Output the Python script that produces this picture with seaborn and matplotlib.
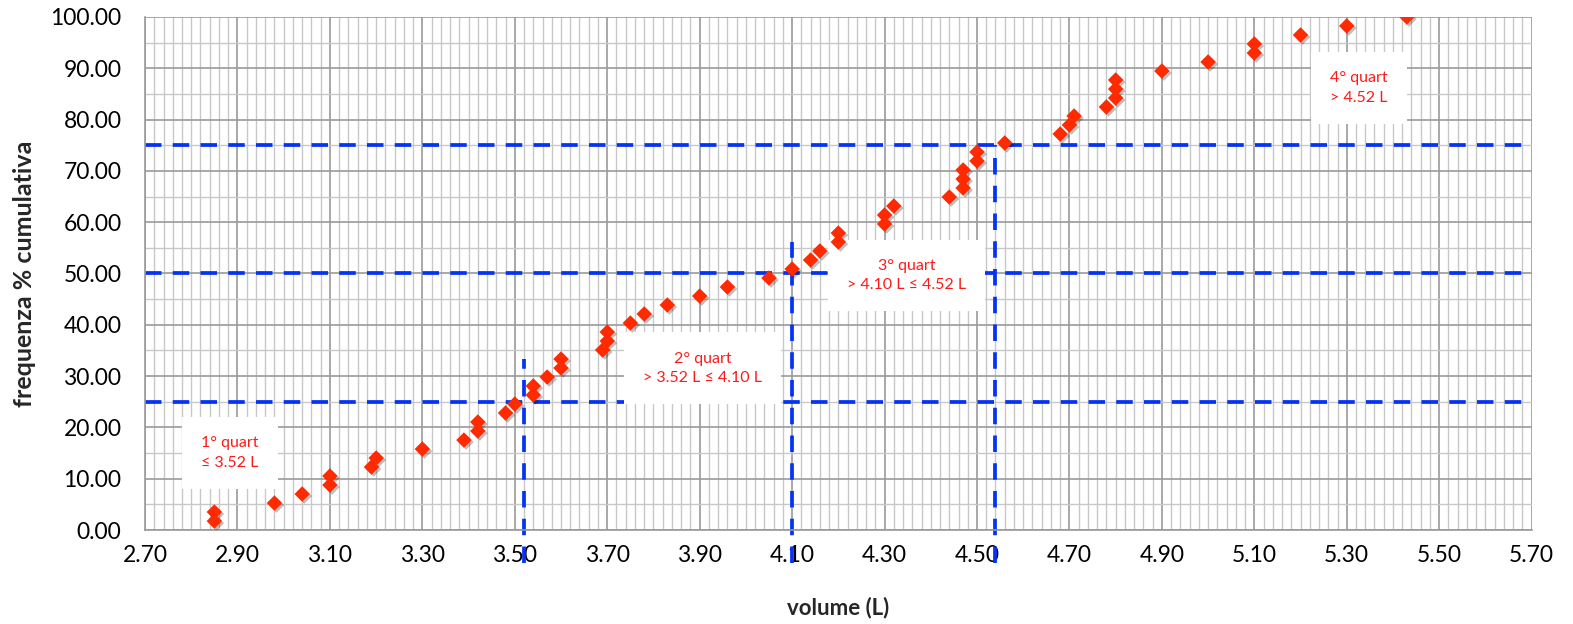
import matplotlib
matplotlib.use("Agg")
import numpy as np
import matplotlib.pyplot as plt
import matplotlib.patheffects as pe
from matplotlib.ticker import FixedLocator, MultipleLocator, FormatStrFormatter
import pandas as pd
import seaborn as sns

# volumi misurati (L) e frequenza % cumulativa
volume = [2.85, 2.85, 2.98, 3.04, 3.10, 3.10, 3.19, 3.20, 3.30, 3.39,
          3.42, 3.42, 3.48, 3.50, 3.54, 3.54, 3.57, 3.60, 3.60, 3.69,
          3.70, 3.70, 3.75, 3.78, 3.83, 3.90, 3.96, 4.05, 4.10, 4.14,
          4.16, 4.20, 4.20, 4.30, 4.30, 4.32, 4.44, 4.47, 4.47, 4.47,
          4.50, 4.50, 4.56, 4.68, 4.70, 4.71, 4.78, 4.80, 4.80, 4.80,
          4.90, 5.00, 5.10, 5.10, 5.20, 5.30, 5.43]
freq = [1.75, 3.51, 5.26, 7.02, 8.77, 10.53, 12.28, 14.04, 15.79, 17.54,
        19.30, 21.05, 22.81, 24.56, 26.32, 28.07, 29.82, 31.58, 33.33, 35.09,
        36.84, 38.60, 40.35, 42.11, 43.86, 45.61, 47.37, 49.12, 50.88, 52.63,
        54.39, 56.14, 57.89, 59.65, 61.40, 63.16, 64.91, 66.67, 68.42, 70.18,
        71.93, 73.68, 75.44, 77.19, 78.95, 80.70, 82.46, 84.21, 85.96, 87.72,
        89.47, 91.23, 92.98, 94.74, 96.49, 98.25, 100.00]

# quartili
quart_pct = [25, 50, 75]
quart_vol = [3.52, 4.10, 4.54]
quart_top = [33.3, 56.2, 75.0]

quart_labels = ["1° quart\n≤ 3.52 L",
                "2° quart\n> 3.52 L ≤ 4.10 L",
                "3° quart\n> 4.10 L ≤ 4.52 L",
                "4° quart\n> 4.52 L"]
label_x = [2.884, 3.906, 4.347, 5.326]
label_y = [15.0, 31.5, 49.6, 86.2]

x_ticks = [2.70, 2.90, 3.10, 3.30, 3.50, 3.70, 3.90, 4.10, 4.30, 4.50,
           4.70, 4.90, 5.10, 5.30, 5.50, 5.70]

df = pd.DataFrame({"volume": volume, "freq": freq})

sns.set_style("white")
plt.rcParams["font.family"] = ["Lato", "DejaVu Sans"]

fig = plt.figure(figsize=(15.73, 6.24), dpi=100)
ax = fig.add_axes([0.0922, 0.1506, 0.8815, 0.8222])

blue = "#0533F5"
for p in quart_pct:
    ax.plot([2.70, 5.70], [p, p], color=blue, lw=2.7, dashes=(4.4, 3.0), zorder=2)
for xv, top in zip(quart_vol, quart_top):
    ax.plot([xv, xv], [-6.4, top], color=blue, lw=2.7, dashes=(4.4, 3.0),
            zorder=2, clip_on=False)

for txt, tx, ty in zip(quart_labels, label_x, label_y):
    ax.text(tx, ty, txt, ha="center", va="center", color="#FF1A1A",
            fontsize=11.5, linespacing=1.5, zorder=3,
            bbox=dict(boxstyle="square,pad=1.2", fc="white", ec="none"))

sns.scatterplot(data=df, x="volume", y="freq", marker="D", s=62,
                color="#FF2A00", edgecolor="none", zorder=4, ax=ax)
ax.collections[-1].set_path_effects([
    pe.SimplePatchShadow(offset=(1.5, -1.5), shadow_rgbFace="k", alpha=0.25),
    pe.Normal()])

ax.set_xlim(2.70, 5.70)
ax.set_ylim(0, 100)
ax.xaxis.set_major_locator(FixedLocator(x_ticks))
ax.xaxis.set_minor_locator(FixedLocator(np.round(np.arange(2.70, 5.701, 0.02), 2)))
ax.yaxis.set_major_locator(MultipleLocator(10))
ax.yaxis.set_minor_locator(MultipleLocator(5))
ax.xaxis.set_major_formatter(FormatStrFormatter("%.2f"))
ax.yaxis.set_major_formatter(FormatStrFormatter("%.2f"))

ax.set_axisbelow(True)
ax.grid(which="major", color="#9A9A9A", lw=1.2)
ax.grid(which="minor", color="#C8C8C8", lw=1.0)

for s in ["top", "right"]:
    ax.spines[s].set_visible(False)
for s in ["left", "bottom"]:
    ax.spines[s].set_color("#9A9A9A")
    ax.spines[s].set_linewidth(1.2)

ax.tick_params(which="major", length=5, width=1.2, color="#9A9A9A",
               labelsize=16.5, labelcolor="black")
ax.tick_params(axis="y", pad=12)
ax.tick_params(axis="x", pad=6)
ax.tick_params(which="minor", length=0)

ax.set_xlabel("volume (L)", fontsize=16, fontweight="bold", labelpad=22)
ax.set_ylabel("frequenza % cumulativa", fontsize=18, fontweight="bold", labelpad=10)

fig.savefig("out.png", dpi=100)
plt.close(fig)
